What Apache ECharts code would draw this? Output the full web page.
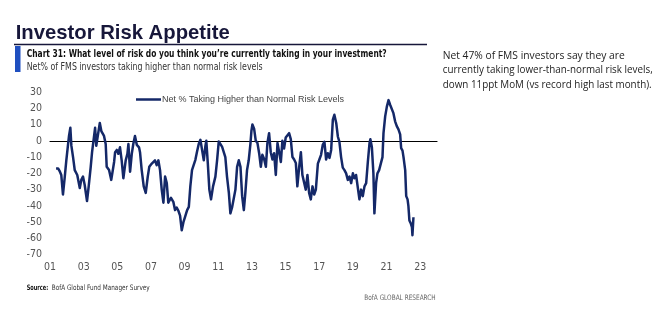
<!DOCTYPE html>
<html><head><meta charset="utf-8">
<script src="https://cdn.jsdelivr.net/npm/echarts@6/dist/echarts.min.js"></script>
<style>html,body{margin:0;padding:0;background:#fff}#c{width:669px;height:329px}</style>
</head><body><div id="c"></div>
<script>
// ---- data (decimal year, net % taking higher than normal risk) ----
const years = [
2001.36,2001.48,2001.59,2001.67,2001.77,2001.87,2001.97,2002.07,2002.13,2002.21,2002.27,2002.37,2002.47,2002.62,2002.77,2002.86,2002.96,
2003.06,2003.20,2003.30,2003.42,2003.50,2003.60,2003.68,2003.75,2003.85,2003.96,2004.05,2004.21,2004.31,2004.37,2004.51,2004.64,2004.81,2004.87,2004.97,
2005.06,2005.16,2005.26,2005.36,2005.50,2005.60,2005.66,2005.76,2005.86,2005.95,2006.05,2006.16,2006.29,2006.35,2006.45,2006.57,2006.69,2006.81,2006.90,
2007.05,2007.14,2007.24,2007.34,2007.44,2007.54,2007.64,2007.74,2007.84,2007.94,2008.03,2008.19,2008.33,2008.43,2008.53,2008.63,2008.73,2008.83,2008.93,
2009.05,2009.15,2009.25,2009.34,2009.44,2009.54,2009.64,2009.74,2009.84,2009.94,2010.04,2010.14,2010.23,2010.29,2010.38,2010.47,2010.57,2010.69,2010.83,2010.93,
2011.03,2011.13,2011.23,2011.33,2011.42,2011.52,2011.63,2011.72,2011.82,2011.92,2012.02,2012.12,2012.22,2012.32,2012.42,2012.52,2012.61,2012.71,2012.81,2012.91,2012.97,
2013.03,2013.13,2013.23,2013.33,2013.43,2013.53,2013.62,2013.72,2013.83,2013.92,2014.02,2014.12,2014.22,2014.32,2014.42,2014.52,2014.62,2014.72,2014.81,2014.91,
2015.01,2015.11,2015.21,2015.31,2015.41,2015.51,2015.61,2015.70,2015.81,2015.91,2016.00,2016.10,2016.20,2016.30,2016.40,2016.50,2016.60,2016.70,2016.80,2016.92,
2017.01,2017.11,2017.21,2017.31,2017.41,2017.51,2017.61,2017.71,2017.81,2017.90,2018.01,2018.11,2018.20,2018.30,2018.40,2018.50,2018.60,2018.70,2018.80,2018.90,
2019.00,2019.09,2019.19,2019.30,2019.39,2019.49,2019.59,2019.69,2019.79,2019.89,2019.99,2020.04,2020.13,2020.22,2020.28,2020.38,2020.46,2020.56,2020.66,2020.76,2020.82,2020.92,
2021.02,2021.12,2021.22,2021.32,2021.41,2021.51,2021.61,2021.71,2021.81,2021.87,2021.95,2022.01,2022.11,2022.17,2022.25,2022.30,2022.36,2022.45,2022.51,2022.54,2022.60
];
const values = [
-17,-17,-19,-21,-33,-23,-12,-2.5,3,8,-3,-10,-18,-21,-29,-24,-22,
-27,-37,-28,-16,-7,-6,8,-3,-2,11,6,3,-2,-16,-18,-24,-13,-7,-5.6,
-8,-4,-12,-23,-12,-8,-2,-19,-8,-2,3,-2.5,-4,-7,-18,-28,-32,-22,-16,
-14,-13,-12,-15,-12,-18,-30,-38,-22,-26,-38,-35,-37.5,-42.6,-41,-43,-46,-55,-50,
-46,-42.6,-40.6,-28,-18,-17,-11.7,-6.6,-2,0.6,1.6,-12,-3.7,0,-14,-30,-36,-28,-22,-12,
-0.4,0,-3.7,-3.7,-10,-22,-32,-44.6,-41,-42,-30,-16,-12,-16,-34,-42.6,-32,-18,-12,-2,6,
10,7.5,0,-1.4,-7.6,-16,-8.6,-11,-16,-1.4,4.7,-7,-11.5,-7.6,-21,-1.4,-7,-13,0,-4.7,
2,1,4.7,1,-10,-11.5,-13.6,-28,-16,-7,-21,-21,-30,-21,-32,-36,-28,-33,-30,-14,
-11.5,-8.6,-2.5,-0.6,-11.5,-7.6,-10.5,-5.6,13,16,11,2.5,-0.6,-10,-16.5,-18,-20,-24,-22,-26,
-20,-23,-21,-22,-36,-30,-34,-28,-26,-13,-1.4,1,-4,-20,-44.6,-26,-20,-18,-14,-10,4.7,15,
21,25,22,21,17,12,9,7,4,-4.5,-6,-10,-18,-34,-36,-40,-49,-51,-53,-58,-47
];
const xTickLabels = ['01','03','05','07','09','11','13','15','17','19','21','23'];
const seriesName = 'Net % Taking Higher than Normal Risk Levels';
const titleText = 'Investor Risk Appetite';
const chartTitle = 'Chart 31: What level of risk do you think you\u2019re currently taking in your investment?';
const chartSub = 'Net% of FMS investors taking higher than normal risk levels';
const noteLines = ['Net 47% of FMS investors say they are','currently taking lower-than-normal risk levels,','down 11ppt MoM (vs record high last month).'];
const sourceLabel = 'Source:';
const sourceText = 'BofA Global Fund Manager Survey';
const brand = 'BofA GLOBAL RESEARCH';

const NAVY = '#142868';
const ctx = document.createElement('canvas').getContext('2d');
function fit(text, font, target){ ctx.font = font; return target / ctx.measureText(text).width; }
function txt(text, x, y, font, fill, width, extra){
  const sx = width ? fit(text, font, width) : 1;
  return Object.assign({type:'text', x:x, y:y, scaleX:sx, scaleY:1,
    style:{text:text, font:font, fill:fill, textVerticalAlign:'middle', textAlign:'left'}, silent:true}, extra||{});
}
const F_NARROW = '"DejaVu Sans Condensed","Liberation Sans",sans-serif';
const graphics = [
  txt(titleText, 15.7, 33.5, 'bold 20.5px "Liberation Sans",Arial,sans-serif', '#17173a', 214),
  {type:'line', shape:{x1:14,y1:44.5,x2:427,y2:44.5}, style:{stroke:'#17173a', lineWidth:1.4}, silent:true},
  {type:'rect', shape:{x:15,y:46,width:5.5,height:26}, style:{fill:'#1f4fc0'}, silent:true},
  txt(chartTitle, 26.7, 54, 'bold 10.5px ' + F_NARROW, '#111', 360),
  txt(chartSub, 26.7, 67, '10.5px ' + F_NARROW, '#333', 236),
  txt(noteLines[0], 442.7, 55.5, '11px "Open Sans",sans-serif', '#222', 182),
  txt(noteLines[1], 442.7, 70, '11px "Open Sans",sans-serif', '#222', 210),
  txt(noteLines[2], 442.7, 84.5, '11px "Open Sans",sans-serif', '#222', 209),
  txt(sourceLabel, 26.7, 287.7, 'bold 7.5px ' + F_NARROW, '#111', 21.5),
  txt(sourceText, 51.7, 287.7, '7.5px ' + F_NARROW, '#333', 98),
  txt(brand, 364.3, 297.7, '7.5px ' + F_NARROW, '#666', 71.4)
];

const chart = echarts.init(document.getElementById('c'), null, {renderer:'canvas'});
chart.setOption({
  animation:false,
  backgroundColor:'#fff',
  grid:{left:50, right:232, top:92, bottom:74.3, containLabel:false},
  legend:{
    show:true, left:131, top:90, itemWidth:25, itemHeight:2.5, icon:'rect',
    data:[{name:seriesName, itemStyle:{color:NAVY}}],
    textStyle:{fontFamily:'"Liberation Sans",sans-serif', fontSize:9, color:'#444', padding:[0,0,0,-4]}
  },
  xAxis:{
    type:'value', min:2001, max:2024, interval:2,
    axisLine:{show:true, onZero:true, lineStyle:{color:'#000', width:1.2}},
    axisTick:{show:false}, splitLine:{show:false},
    axisLabel:{
      margin:7, fontSize:10.5, fontFamily:F_NARROW, color:'#555', showMaxLabel:false,
      formatter:function(v){ const k=(v-2001)/2; return (Number.isInteger(k) && xTickLabels[k]) ? xTickLabels[k] : ''; }
    }
  },
  yAxis:{
    type:'value', min:-70, max:30, interval:10,
    axisLine:{show:false}, axisTick:{show:false}, splitLine:{show:false},
    axisLabel:{margin:8, fontSize:10.5, fontFamily:F_NARROW, color:'#555'}
  },
  series:[{
    name:seriesName, type:'line', showSymbol:false, symbol:'none',
    data: years.map((y,i)=>[y, values[i]]),
    lineStyle:{color:NAVY, width:2.5, join:'round'}, itemStyle:{color:NAVY}
  }],
  graphic:graphics
});
</script>
</body></html>
